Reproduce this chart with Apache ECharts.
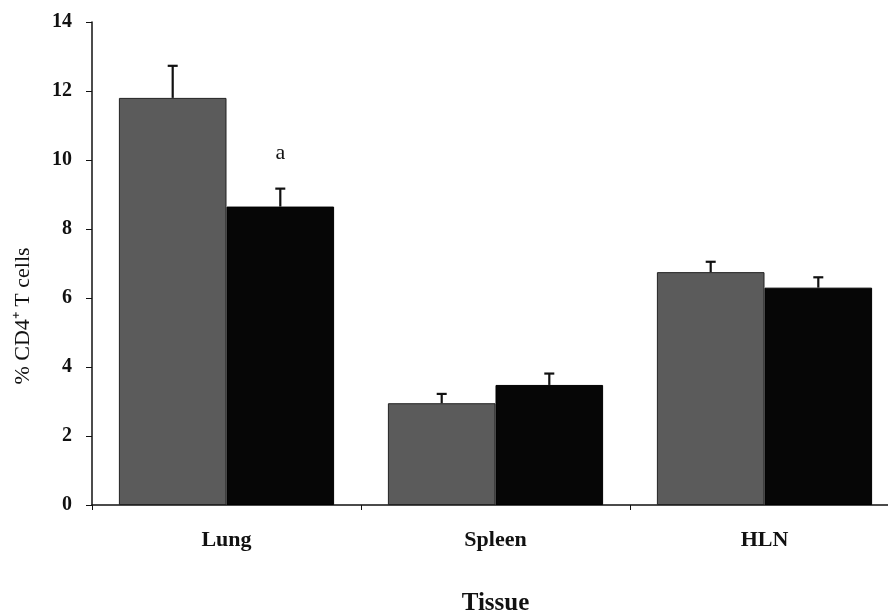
<!DOCTYPE html>
<html>
<head>
<meta charset="utf-8">
<script src="https://cdn.jsdelivr.net/npm/echarts@6/dist/echarts.min.js"></script>
<style>html,body{margin:0;padding:0;background:#fff}#c{width:888px;height:615px}</style>
</head>
<body>
<div id="c"></div>
<script>
var categories = ['Lung', 'Spleen', 'HLN'];
var controlValues = [11.8, 2.95, 6.75];
var controlErrors = [0.93, 0.27, 0.3];
var treatedValues = [8.65, 3.48, 6.3];
var treatedErrors = [0.52, 0.33, 0.3];
var treatedMarks = ['a', '', ''];
var yMin = 0, yMax = 14, yStep = 2;

var FONT = '"Liberation Serif", "Times New Roman", serif';
var chart = echarts.init(document.getElementById('c'), null, {renderer: 'canvas'});

function errorSeries(values, errors, side) {
  return {
    type: 'custom',
    z: 5,
    data: values.map(function (v, i) { return [i, v, v + errors[i]]; }),
    renderItem: function (params, api) {
      var band = api.size([1, 0])[0];
      var base = api.coord([api.value(0), api.value(1)]);
      var top = api.coord([api.value(0), api.value(2)]);
      var x = base[0] + side * band * 0.2;
      var cap = 5;
      var st = {stroke: '#111', lineWidth: 2.2};
      return {
        type: 'group',
        children: [
          {type: 'line', shape: {x1: x, y1: base[1], x2: x, y2: top[1]}, style: st},
          {type: 'line', shape: {x1: x - cap, y1: top[1], x2: x + cap, y2: top[1]}, style: st}
        ]
      };
    }
  };
}

chart.setOption({
  backgroundColor: '#ffffff',
  animation: false,
  grid: {left: 92, top: 22, right: -11, bottom: 110, containLabel: false, outerBoundsMode: 'none'},
  xAxis: {
    type: 'category',
    data: categories,
    boundaryGap: true,
    axisLine: {lineStyle: {color: '#111', width: 1.5}},
    axisTick: {show: true, length: 5, alignWithLabel: false, lineStyle: {color: '#111'}},
    axisLabel: {margin: 24, fontFamily: FONT, fontWeight: 'bold', fontSize: 22, color: '#111'},
    name: 'Tissue',
    nameLocation: 'middle',
    nameGap: 86,
    nameTextStyle: {fontFamily: FONT, fontWeight: 'bold', fontSize: 25, color: '#111'}
  },
  yAxis: {
    type: 'value',
    min: yMin, max: yMax, interval: yStep,
    splitLine: {show: false},
    axisLine: {show: true, lineStyle: {color: '#111', width: 1.5}},
    axisTick: {show: true, length: 6, lineStyle: {color: '#111'}},
    axisLabel: {margin: 20, fontFamily: FONT, fontWeight: 'bold', fontSize: 20, color: '#111'}
  },
  graphic: [{
    type: 'text',
    x: 23,
    y: 316,
    rotation: Math.PI / 2,
    style: {
      text: '% CD4\u207A T cells',
      fontFamily: FONT, fontSize: 22, fill: '#111',
      textAlign: 'center', textVerticalAlign: 'middle'
    }
  }],
  series: [
    {
      type: 'bar',
      data: controlValues,
      barWidth: '40%',
      barGap: '0%',
      itemStyle: {color: '#5b5b5b', borderColor: '#222', borderWidth: 1}
    },
    {
      type: 'bar',
      data: treatedValues.map(function (v, i) {
        return {
          value: v,
          label: {show: !!treatedMarks[i], formatter: treatedMarks[i], position: 'top', distance: 42,
            fontFamily: FONT, fontSize: 22, color: '#111'}
        };
      }),
      barWidth: '40%',
      barGap: '0%',
      itemStyle: {color: '#060606', borderColor: '#000', borderWidth: 1}
    },
    errorSeries(controlValues, controlErrors, -1),
    errorSeries(treatedValues, treatedErrors, 1)
  ]
});
</script>
</body>
</html>
